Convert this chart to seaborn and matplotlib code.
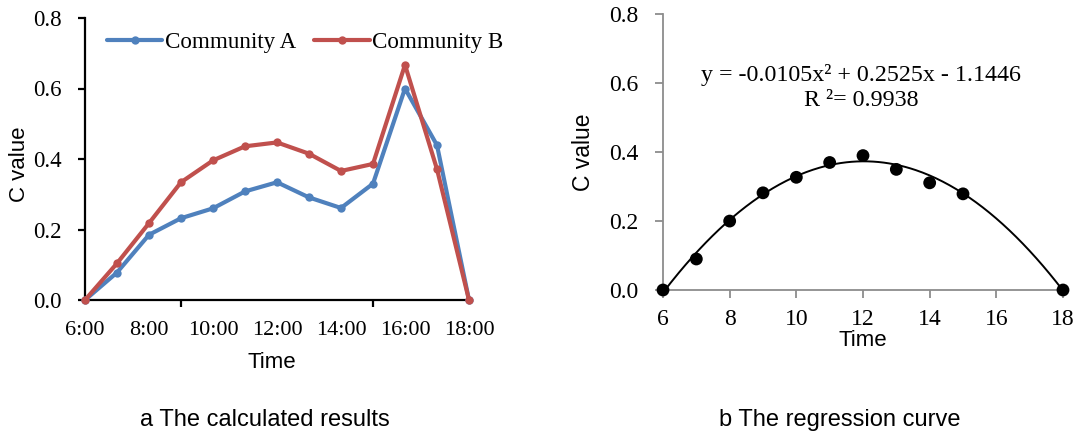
import numpy as np
import pandas as pd
import matplotlib
matplotlib.use("Agg")
import matplotlib.pyplot as plt
import seaborn as sns
from matplotlib.lines import Line2D

# ---------------- data ----------------
hours = [6, 7, 8, 9, 10, 11, 12, 13, 14, 15, 16, 17, 18]
community_a = [0.0, 0.078, 0.185, 0.232, 0.260, 0.308, 0.334, 0.291, 0.261, 0.330, 0.600, 0.439, 0.0]
community_b = [0.0, 0.104, 0.218, 0.334, 0.396, 0.436, 0.447, 0.415, 0.366, 0.386, 0.667, 0.371, 0.0]
series_names = ["Community A", "Community B"]
time_labels = ["6:00", "8:00", "10:00", "12:00", "14:00", "16:00", "18:00"]

reg_x = [6, 7, 8, 9, 10, 11, 12, 13, 14, 15, 18]
reg_y = [0.0, 0.090, 0.200, 0.282, 0.327, 0.370, 0.390, 0.350, 0.311, 0.279, 0.0]
poly_coef = [-0.0105, 0.2525, -1.1446]
r_squared = 0.9938

caption_a = "a The calculated results"
caption_b = "b The regression curve"

# ---------------- style ----------------
sns.set_theme(style="white")
serif = ["Liberation Serif", "DejaVu Serif"]
sans = ["Liberation Sans", "DejaVu Sans"]
plt.rcParams["font.family"] = serif
plt.rcParams["text.color"] = "black"

blue = "#4F81BD"
red = "#C0504D"

W, H = 1081, 434
fig = plt.figure(figsize=(W / 100, H / 100), dpi=100)
fig.patch.set_facecolor("white")

def ax_rect(x0, x1, y_top, y_bot):
    return [x0 / W, 1 - y_bot / H, (x1 - x0) / W, (y_bot - y_top) / H]

# ---------------- left panel ----------------
axL = fig.add_axes(ax_rect(85, 469, 18, 300))
df = pd.DataFrame({
    "Time": hours * 2,
    "C value": community_a + community_b,
    "Series": [series_names[0]] * len(hours) + [series_names[1]] * len(hours),
})
sns.lineplot(data=df, x="Time", y="C value", hue="Series",
             palette=[blue, red], marker="o", markersize=6,
             markeredgewidth=0, linewidth=3, ax=axL, legend=False,
             clip_on=False, zorder=3)
axL.set_xlim(6, 18)
axL.set_ylim(0, 0.8)
axL.set_yticks([0.0, 0.2, 0.4, 0.6, 0.8])
axL.set_yticklabels(["0.0", "0.2", "0.4", "0.6", "0.8"])
axL.set_xticks(hours[::2])
axL.set_xticklabels(time_labels)
axL.set_xticks(hours[::3], minor=True)
axL.tick_params(axis="x", which="major", length=0, pad=15, labelsize=16, colors="black")
axL.tick_params(axis="x", which="minor", length=5, width=1.6, direction="out", color="black", bottom=True)
axL.tick_params(axis="y", length=5, width=1.6, direction="out", pad=12, labelsize=16.5, colors="black", left=True)
for s in ["top", "right"]:
    axL.spines[s].set_visible(False)
for s in ["left", "bottom"]:
    axL.spines[s].set_color("black")
    axL.spines[s].set_linewidth(1.6)
axL.set_xlabel("Time", fontsize=16, family=sans, color="black")
axL.set_ylabel("C value", fontsize=16, family=sans, color="black")
axL.xaxis.label.set_va("center")
axL.yaxis.label.set_va("center")
axL.xaxis.set_label_coords(0.487, -0.223)
axL.yaxis.set_label_coords(-0.171, 0.482)

handles = [Line2D([], [], color=c, lw=3, marker="o", markersize=6, markeredgewidth=0)
           for c in (blue, red)]
leg = axL.legend(handles, series_names, ncol=2, frameon=False, loc="center left",
                 bbox_to_anchor=(107 / W, 1 - 42 / H), bbox_transform=fig.transFigure,
                 borderpad=0, borderaxespad=0, handlelength=2.4, handletextpad=0.1,
                 columnspacing=0.8, prop={"family": serif, "size": 16.6})
for t in leg.get_texts():
    t.set_color("black")

# ---------------- right panel ----------------
axR = fig.add_axes(ax_rect(663, 1063, 14.3, 290))
xx = np.linspace(min(reg_x), max(reg_x), 300)
sns.lineplot(x=xx, y=np.polyval(poly_coef, xx), color="black", linewidth=1.4, ax=axR, zorder=2)
sns.scatterplot(x=reg_x, y=reg_y, color="black", s=85, edgecolor="none", ax=axR,
                zorder=3, clip_on=False)
axR.set_xlim(6, 18)
axR.set_ylim(0, 0.8)
axR.set_xticks([6, 8, 10, 12, 14, 16, 18])
axR.set_yticks([0.0, 0.2, 0.4, 0.6, 0.8])
axR.set_yticklabels(["0.0", "0.2", "0.4", "0.6", "0.8"])
gray = "#8c8c8c"
for s in ["top", "right"]:
    axR.spines[s].set_visible(False)
for s in ["left", "bottom"]:
    axR.spines[s].set_color(gray)
    axR.spines[s].set_linewidth(1.3)
axR.tick_params(axis="x", length=6, width=1.3, direction="out", color=gray, pad=8,
                labelsize=17, labelcolor="black", bottom=True)
axR.tick_params(axis="y", length=6, width=1.3, direction="out", color=gray, pad=12,
                labelsize=17, labelcolor="black", left=True)
axR.set_xlabel("Time", fontsize=16, family=sans, color="black")
axR.set_ylabel("C value", fontsize=16.5, family=sans, color="black")
axR.xaxis.label.set_va("center")
axR.yaxis.label.set_va("center")
axR.xaxis.set_label_coords(0.5, -0.182)
axR.yaxis.set_label_coords(-0.1975, 0.499)

eq = "y = {:.4f}x\u00b2 + {:.4f}x - {:.4f}".format(poly_coef[0], poly_coef[1], -poly_coef[2])
fig.text(861 / W, 1 - 75 / H, eq, ha="center", va="center", fontsize=17.3, family=serif)
fig.text(861 / W, 1 - 100 / H, "R \u00b2= {:.4f}".format(r_squared), ha="center", va="center",
         fontsize=17.3, family=serif)

# ---------------- captions ----------------
fig.text(265 / W, 1 - 420 / H, caption_a, ha="center", va="center", fontsize=17, family=sans)
fig.text(840 / W, 1 - 420 / H, caption_b, ha="center", va="center", fontsize=17, family=sans)

fig.savefig("out.png", dpi=100, facecolor="white")
